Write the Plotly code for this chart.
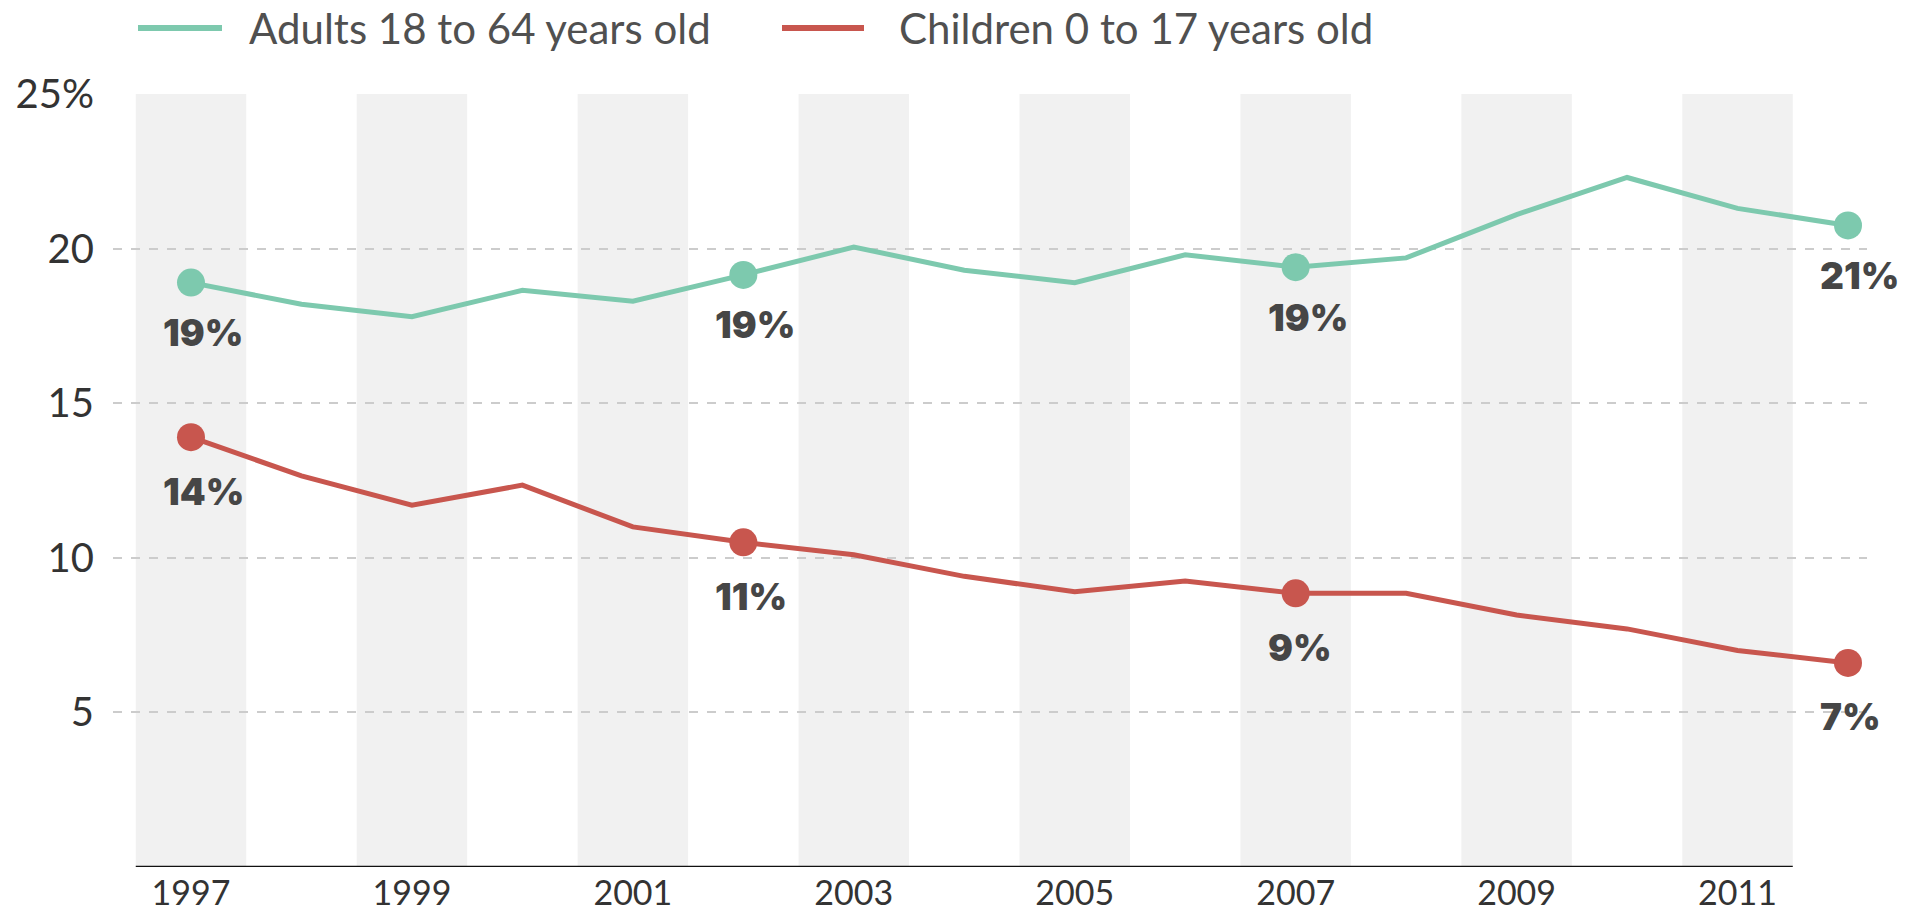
import plotly.graph_objects as go

years = list(range(1997, 2013))
adults = [18.9, 18.2, 17.8, 18.65, 18.3, 19.15, 20.05, 19.3, 18.9, 19.8, 19.4, 19.7, 21.1, 22.3, 21.3, 20.75]
children = [13.9, 12.65, 11.7, 12.35, 11.0, 10.5, 10.1, 9.4, 8.9, 9.25, 8.85, 8.85, 8.15, 7.7, 7.0, 6.6]

label_years = [1997, 2002, 2007, 2012]
adult_labels = ["19%", "19%", "19%", "21%"]
child_labels = ["14%", "11%", "9%", "7%"]

band_years = [1997, 1999, 2001, 2003, 2005, 2007, 2009, 2011]
xtick_vals = band_years
ytick_vals = [5, 10, 15, 20, 25]
ytick_text = ["5", "10", "15", "20", "25%"]
grid_vals = [5, 10, 15, 20]

series_names = ["Adults 18 to 64 years old", "Children 0 to 17 years old"]
TEAL = "#7dc9ae"
RED = "#c8564e"

W, H = 1916, 917
ML, MR, MT, MB = 113, 49, 94, 50
PW, PH = W - ML - MR, H - MT - MB


def px2paper_x(px):
    return (px - ML) / PW


def px2paper_y(py):
    return (H - MB - py) / PH


fig = go.Figure()

# invisible trace to activate the grid axis
fig.add_trace(go.Scatter(x=years, y=adults, mode="lines", line=dict(width=0),
                         opacity=0, hoverinfo="skip", showlegend=False, yaxis="y2"))

fig.add_trace(go.Scatter(x=years, y=adults, mode="lines", name=series_names[0],
                         line=dict(color=TEAL, width=5), showlegend=False, cliponaxis=False))
fig.add_trace(go.Scatter(x=years, y=children, mode="lines", name=series_names[1],
                         line=dict(color=RED, width=5), showlegend=False, cliponaxis=False))

ad_marks = [adults[years.index(y)] for y in label_years]
ch_marks = [children[years.index(y)] for y in label_years]
fig.add_trace(go.Scatter(x=label_years, y=ad_marks, mode="markers",
                         marker=dict(color=TEAL, size=28), showlegend=False, cliponaxis=False))
fig.add_trace(go.Scatter(x=label_years, y=ch_marks, mode="markers",
                         marker=dict(color=RED, size=28), showlegend=False, cliponaxis=False))

label_font = dict(family="Inter, Lato, sans-serif", size=37, color="#464646", weight=900)
for yr, v, t in zip(label_years, ad_marks, adult_labels):
    fig.add_annotation(x=yr, y=v, text=t, showarrow=False, xanchor="left", yanchor="middle",
                       xshift=-30, yshift=-50, font=label_font)
for yr, v, t in zip(label_years, ch_marks, child_labels):
    fig.add_annotation(x=yr, y=v, text=t, showarrow=False, xanchor="left", yanchor="middle",
                       xshift=-30, yshift=-54, font=label_font)

# background bands
for yr in band_years:
    fig.add_shape(type="rect", xref="x", yref="y", x0=yr - 0.5, x1=yr + 0.5, y0=0, y1=25,
                  fillcolor="#f1f1f1", line=dict(width=0), layer="below")

# bottom axis line
fig.add_shape(type="line", xref="x", yref="y", x0=band_years[0] - 0.5, x1=band_years[-1] + 0.5,
              y0=0, y1=0, line=dict(color="#111111", width=2.5))

# custom legend
legend_font = dict(family="Lato, sans-serif", size=42, color="#505050")
for (lx0, lx1, tx), name, col in zip([(138, 222, 247), (782, 864, 897)], series_names, [TEAL, RED]):
    fig.add_shape(type="line", xref="paper", yref="paper",
                  x0=px2paper_x(lx0), x1=px2paper_x(lx1), y0=px2paper_y(28), y1=px2paper_y(28),
                  line=dict(color=col, width=6))
    fig.add_annotation(xref="paper", yref="paper", x=px2paper_x(tx), y=px2paper_y(28),
                       text=name, showarrow=False, xanchor="left", yanchor="middle", font=legend_font)

fig.update_layout(
    width=W, height=H,
    margin=dict(l=ML, r=MR, t=MT, b=MB),
    paper_bgcolor="white", plot_bgcolor="white",
    showlegend=False,
    xaxis=dict(range=[1996.294, 2012.172], tickvals=xtick_vals, ticktext=[str(v) for v in xtick_vals],
               showgrid=False, zeroline=False, showline=False, ticks="",
               tickfont=dict(family="Lato, sans-serif", size=34, color="#333333"),
               ticklabelstandoff=3, automargin=False, fixedrange=True),
    yaxis=dict(range=[0, 25], tickvals=ytick_vals, ticktext=ytick_text, showgrid=False,
               zeroline=False, showline=False, ticks="",
               tickfont=dict(family="Lato, sans-serif", size=40, color="#333333"),
               ticklabelstandoff=18, automargin=False, fixedrange=True),
    yaxis2=dict(range=[0, 25], overlaying="y", tickvals=grid_vals, showticklabels=False,
                showgrid=True, gridcolor="#cccccc", gridwidth=1.5, griddash="dash",
                zeroline=False, showline=False, ticks="", fixedrange=True),
)

fig.write_html("out.html")
